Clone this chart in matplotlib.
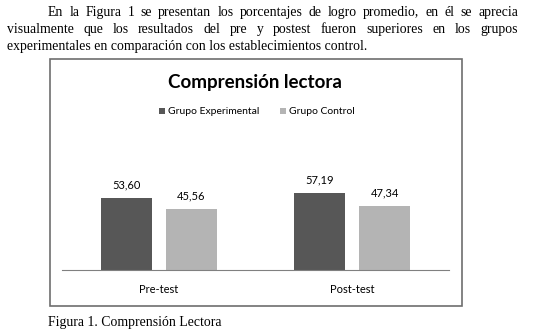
import matplotlib
matplotlib.use('Agg')
import matplotlib.pyplot as plt
from matplotlib.patches import Rectangle, Patch
import numpy as np

categories = ['Pre-test', 'Post-test']
series_names = ['Grupo Experimental', 'Grupo Control']
experimental = [53.60, 57.19]
control = [45.56, 47.34]
colors = ['#575757', '#b4b4b4']

title = 'Comprensión lectora'
paragraph = [
    'En la Figura 1 se presentan los porcentajes de logro promedio, en él se aprecia',
    'visualmente que los resultados del pre y postest fueron superiores en los grupos',
    'experimentales en comparación con los establecimientos control.',
]
caption = 'Figura 1. Comprensión Lectora'

W, H = 535, 334
fig = plt.figure(figsize=(W / 100, H / 100), dpi=100)
fig.patch.set_facecolor('white')

serif = 'Liberation Serif'
sans = 'Lato'

def fx(px):
    return px / W

def fy(py):
    return 1 - py / H

renderer = fig.canvas.get_renderer()

def text_width(s, size):
    t = fig.text(0, 0, s, fontsize=size, family=serif)
    w = t.get_window_extent(renderer).width
    t.remove()
    return w

# pick the serif size so the last (free) line ends where it does in the picture
fs = 12 * 358 / text_width(paragraph[2], 12)

lines = [(paragraph[0], 48, 518, 16, True),
         (paragraph[1], 7, 518, 33, True),
         (paragraph[2], 7, None, 50, False)]
for txt, x0, x1, yb, justify in lines:
    if not justify:
        fig.text(fx(x0), fy(yb), txt, fontsize=fs, family=serif, va='baseline', ha='left')
        continue
    words = txt.split(' ')
    widths = [text_width(w, fs) for w in words]
    gap = (x1 - x0 - sum(widths)) / (len(words) - 1)
    x = x0
    for w, wd in zip(words, widths):
        fig.text(fx(x), fy(yb), w, fontsize=fs, family=serif, va='baseline', ha='left')
        x += wd + gap

# chart frame
fig.patches.append(Rectangle((fx(50), fy(306)), fx(462) - fx(50), fy(59) - fy(306),
                             transform=fig.transFigure, fill=False,
                             edgecolor='#6e6e6e', linewidth=1.2))

fig.text(fx(255), fy(82), title, fontsize=13.5, fontweight='bold', family=sans,
         ha='center', va='center')

handles = [Patch(facecolor=c, edgecolor='none') for c in colors]
fig.legend(handles, series_names, loc='center', bbox_to_anchor=(fx(257), fy(112)),
           ncol=2, frameon=False, prop={'family': sans, 'size': 7.5},
           handlelength=0.55, handleheight=0.55, handletextpad=0.3,
           columnspacing=2.0)

ax = fig.add_axes([fx(62), fy(270), fx(449) - fx(62), 134.3 / H])
x = np.arange(len(categories))
off, bw = 0.168, 0.264
b1 = ax.bar(x - off, experimental, bw, color=colors[0])
b2 = ax.bar(x + off, control, bw, color=colors[1])
for bars, vals in ((b1, experimental), (b2, control)):
    for b, v in zip(bars, vals):
        ax.annotate(f'{v:.2f}'.replace('.', ','), (b.get_x() + b.get_width() / 2, v),
                    xytext=(0, 5.5), textcoords='offset points', ha='center', va='bottom',
                    fontsize=8, family=sans)

ax.set_xlim(-0.5, 1.5)
ax.set_ylim(0, 100)
ax.set_xticks(x)
ax.set_xticklabels(categories, fontsize=8, family=sans)
ax.tick_params(axis='x', length=0, pad=10)
ax.set_yticks([])
for s in ['top', 'right', 'left']:
    ax.spines[s].set_visible(False)
ax.spines['bottom'].set_color('#808080')
ax.patch.set_alpha(0)

fig.text(fx(48), fy(326), caption, fontsize=fs, family=serif, va='baseline', ha='left')

fig.savefig('out.png', dpi=100)
